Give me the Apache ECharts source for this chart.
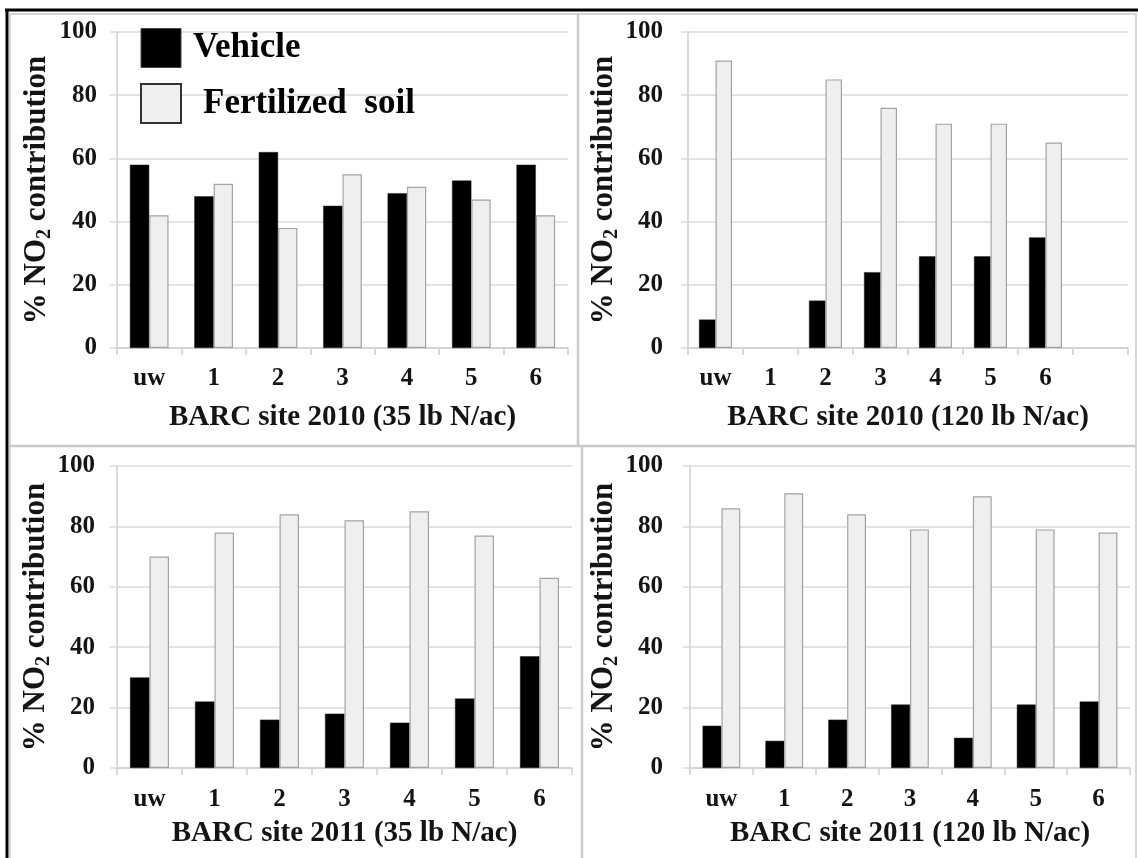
<!DOCTYPE html>
<html>
<head>
<meta charset="utf-8">
<script src="https://cdn.jsdelivr.net/npm/echarts@6/dist/echarts.min.js"></script>
<style>
  html, body { margin: 0; padding: 0; background: #fff; }
  #chart { width: 1138px; height: 858px; }
</style>
</head>
<body>
<div id="chart"></div>
<script>
// Sampling sites along the transect (uw = upwind)
const sites = ['uw', '1', '2', '3', '4', '5', '6'];
const sitesPadded = ['uw', '1', '2', '3', '4', '5', '6', ''];

// % NO2 contribution by source
const vehicle2010Low = [58, 48, 62, 45, 49, 53, 58];
const soil2010Low = [42, 52, 38, 55, 51, 47, 42];
const vehicle2010High = [9, null, 15, 24, 29, 29, 35];
const soil2010High = [91, null, 85, 76, 71, 71, 65];
const vehicle2011Low = [30, 22, 16, 18, 15, 23, 37];
const soil2011Low = [70, 78, 84, 82, 85, 77, 63];
const vehicle2011High = [14, 9, 16, 21, 10, 21, 22];
const soil2011High = [86, 91, 84, 79, 90, 79, 78];

const panelTitles = [
  'BARC site 2010 (35 lb N/ac)',
  'BARC site 2010 (120 lb N/ac)',
  'BARC site 2011 (35 lb N/ac)',
  'BARC site 2011 (120 lb N/ac)'
];
const yName = '% NO{s|2} contribution';
const VEHICLE = 'Vehicle';
const SOIL = 'Fertilized  soil';

const FONT = "'Liberation Serif', 'Times New Roman', serif";
const INK = '#141414';
const AXIS_GRAY = '#cfcfcf';
const GRID_GRAY = '#dadada';

const panels = [
  { grid: { left: 117, top: 32, width: 451, height: 316 }, cats: sites, v: vehicle2010Low, s: soil2010Low, yMargin: 20, xMargin: 18, nameGap: 55, yNameGap: 62 },
  { grid: { left: 688, top: 32, width: 440, height: 316 }, cats: sitesPadded, v: vehicle2010High, s: soil2010High, yMargin: 25, xMargin: 18, nameGap: 55, yNameGap: 64 },
  { grid: { left: 117, top: 466, width: 455, height: 302 }, cats: sites, v: vehicle2011Low, s: soil2011Low, yMargin: 22, xMargin: 19, nameGap: 51, yNameGap: 62 },
  { grid: { left: 690, top: 466, width: 440, height: 302 }, cats: sites, v: vehicle2011High, s: soil2011High, yMargin: 27, xMargin: 19, nameGap: 51, yNameGap: 66 }
];

const grids = [], xAxes = [], yAxes = [], series = [];
panels.forEach((p, i) => {
  grids.push(Object.assign({ containLabel: false }, p.grid));
  xAxes.push({
    type: 'category',
    gridIndex: i,
    data: p.cats,
    boundaryGap: true,
    axisLine: { show: true, lineStyle: { color: AXIS_GRAY, width: 1.5 } },
    axisTick: { show: true, length: 7, alignWithLabel: false, lineStyle: { color: AXIS_GRAY, width: 1.5 } },
    axisLabel: { margin: p.xMargin, fontSize: 25, fontWeight: 'bold', fontFamily: FONT, color: INK },
    name: panelTitles[i],
    nameLocation: 'middle',
    nameGap: p.nameGap,
    nameTextStyle: { fontSize: 29, fontWeight: 'bold', fontFamily: FONT, color: INK }
  });
  yAxes.push({
    type: 'value',
    gridIndex: i,
    min: 0,
    max: 100,
    interval: 20,
    axisLine: { show: true, lineStyle: { color: AXIS_GRAY, width: 1.5 } },
    axisTick: { show: true, length: 7, lineStyle: { color: GRID_GRAY, width: 1.5 } },
    splitLine: { show: true, lineStyle: { color: GRID_GRAY, width: 1.5 } },
    axisLabel: { margin: p.yMargin, fontSize: 25, fontWeight: 'bold', fontFamily: FONT, color: INK },
    name: yName,
    nameLocation: 'middle',
    nameRotate: 90,
    nameGap: p.yNameGap,
    nameTextStyle: {
      fontSize: 31, fontWeight: 'bold', fontFamily: FONT, color: INK, lineHeight: 36,
      rich: { s: { fontSize: 20, fontWeight: 'bold', fontFamily: FONT, color: INK, verticalAlign: 'bottom', lineHeight: 20 } }
    }
  });
  series.push({
    name: VEHICLE,
    type: 'bar',
    xAxisIndex: i,
    yAxisIndex: i,
    data: p.v,
    barWidth: '30%',
    barGap: '0%',
    itemStyle: { color: '#000000', borderColor: '#222', borderWidth: 0.5 }
  });
  series.push({
    name: SOIL,
    type: 'bar',
    xAxisIndex: i,
    yAxisIndex: i,
    data: p.s,
    barWidth: '30%',
    barGap: '0%',
    itemStyle: { color: '#efefef', borderColor: '#a3a3a3', borderWidth: 1.2 }
  });
});

const frame = { stroke: '#000', lineWidth: 3 };
const soft = { stroke: '#d6d6d6', lineWidth: 2 };
const divider = { stroke: '#c9c9c9', lineWidth: 2.5 };
const line = (x1, y1, x2, y2, style) => ({ type: 'line', silent: true, shape: { x1, y1, x2, y2 }, style });

const option = {
  backgroundColor: '#ffffff',
  animation: false,
  grid: grids,
  xAxis: xAxes,
  yAxis: yAxes,
  series: series,
  legend: {
    orient: 'vertical',
    left: 140,
    top: 28,
    padding: 0,
    itemWidth: 40,
    itemHeight: 39,
    itemGap: 15,
    selectedMode: false,
    textStyle: { fontSize: 35, fontWeight: 'bold', fontFamily: FONT, color: '#000' },
    data: [
      { name: VEHICLE, icon: 'rect', itemStyle: { color: '#000', borderColor: '#444', borderWidth: 1 }, textStyle: { padding: [0, 0, 0, 7] } },
      { name: SOIL, icon: 'rect', itemStyle: { color: '#efefef', borderColor: '#333', borderWidth: 2 }, textStyle: { padding: [0, 0, 0, 17] } }
    ]
  },
  graphic: [
    line(9, 14, 1136, 14, soft),
    line(10, 13, 10, 858, soft),
    line(1136, 13, 1136, 858, soft),
    line(9, 446, 1136, 446, divider),
    line(578, 13, 578, 446, divider),
    line(582, 446, 582, 858, divider),
    line(5, 10, 1138, 10, frame),
    line(7, 9, 7, 858, frame)
  ]
};

const chart = echarts.init(document.getElementById('chart'), null, { renderer: 'canvas' });
chart.setOption(option);
</script>
</body>
</html>
